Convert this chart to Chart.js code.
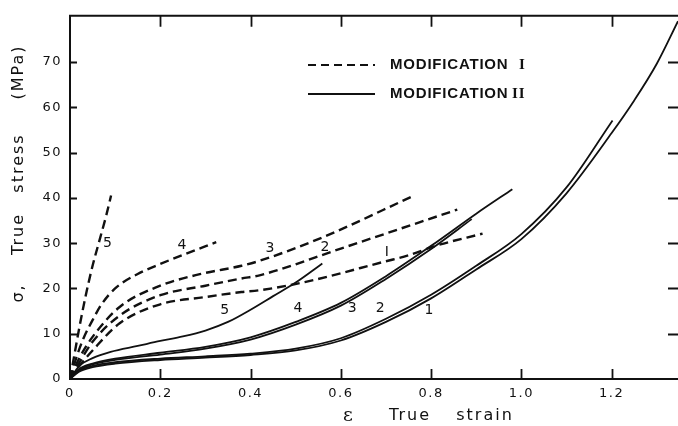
<!DOCTYPE html>
<html lang="en">
<head>
<meta charset="UTF-8">
<title>True stress - true strain</title>
<style>
    body { margin: 0; background: #fff; }
    #wrap { width: 678px; height: 426px; }
</style>
<script src="https://cdn.jsdelivr.net/npm/chart.js"></script>
</head>
<body>
<div id="wrap"><canvas id="chart" width="678" height="426"></canvas></div>
<script>
// Modification I (dashed), curves 1-5
var m1c1Strain = [0, 0.02, 0.05, 0.11, 0.2, 0.3, 0.38, 0.42, 0.52, 0.7, 0.75, 0.81, 0.914];
var m1c1Stress = [0, 2.8, 6.3, 12.3, 16.5, 18.1, 19.2, 19.6, 21.4, 26, 27.3, 29.4, 32.1];
var m1c2Strain = [0, 0.02, 0.05, 0.11, 0.2, 0.3, 0.38, 0.42, 0.6, 0.858];
var m1c2Stress = [0, 3.5, 8.2, 14, 18.5, 20.6, 22.2, 22.9, 28.8, 37.4];
var m1c3Strain = [0, 0.02, 0.05, 0.11, 0.2, 0.29, 0.38, 0.42, 0.56, 0.76];
var m1c3Stress = [0, 4.5, 9.3, 15.9, 20.6, 23.2, 25, 26.1, 31.3, 40.4];
var m1c4Strain = [0, 0.015, 0.03, 0.05, 0.07, 0.1, 0.15, 0.2, 0.25, 0.324];
var m1c4Stress = [0, 5, 9, 13, 16.5, 20, 23.2, 25.4, 27.4, 30.2];
var m1c5Strain = [0, 0.01, 0.02, 0.035, 0.05, 0.065, 0.08, 0.091];
var m1c5Stress = [0, 5.5, 11, 18.5, 25, 30.5, 36, 40.5];

// Modification II (solid), curves 1-5
var m2c1Strain = [0, 0.02, 0.05, 0.1, 0.2, 0.3, 0.4, 0.5, 0.6, 0.7, 0.8, 0.9, 1.0, 1.1, 1.2, 1.25, 1.3, 1.347];
var m2c1Stress = [0, 1.6, 2.6, 3.4, 4.2, 4.7, 5.3, 6.3, 8.5, 12.6, 17.8, 24.2, 30.9, 41, 54.3, 61.5, 69.6, 79];
var m2c2Strain = [0, 0.02, 0.05, 0.1, 0.2, 0.3, 0.4, 0.5, 0.6, 0.7, 0.8, 0.9, 1.0, 1.1, 1.202];
var m2c2Stress = [0, 1.8, 2.9, 3.7, 4.5, 5.0, 5.6, 6.7, 9.0, 13.3, 18.6, 25.0, 32.0, 42.3, 57.1];
var m2c3Strain = [0, 0.02, 0.05, 0.1, 0.2, 0.3, 0.4, 0.5, 0.6, 0.7, 0.8, 0.89];
var m2c3Stress = [0, 2, 3.2, 4.2, 5.4, 6.7, 8.7, 12.0, 16.2, 22.1, 28.7, 35.3];
var m2c4Strain = [0, 0.02, 0.05, 0.1, 0.2, 0.3, 0.4, 0.5, 0.6, 0.7, 0.8, 0.9, 0.98];
var m2c4Stress = [0, 2.2, 3.4, 4.5, 5.8, 7.1, 9.2, 12.6, 16.8, 22.7, 29.4, 36.5, 41.9];
var m2c5Strain = [0, 0.02, 0.05, 0.09, 0.15, 0.2, 0.25, 0.3, 0.35, 0.4, 0.45, 0.5, 0.559];
var m2c5Stress = [0, 2.8, 4.6, 6, 7.3, 8.4, 9.4, 10.7, 12.6, 15.3, 18.3, 21.3, 25.5];

// axes
var xTicks = [0, 0.2, 0.4, 0.6, 0.8, 1.0, 1.2];
var xTickLabels = ['0', '0.2', '0.4', '0.6', '0.8', '1.0', '1.2'];
var yTicks = [0, 10, 20, 30, 40, 50, 60, 70];
var yTickLabels = ['0', '10', '20', '30', '40', '50', '60', '70'];

// curve numbers written next to the lines
var m1LabelText = ['5', '4', '3', '2', 'I'];
var m1LabelStrain = [0.083, 0.248, 0.443, 0.565, 0.702];
var m1LabelStress = [29.9, 29.5, 28.8, 29.0, 27.9];
var m2LabelText = ['5', '4', '3', '2', '1'];
var m2LabelStrain = [0.343, 0.505, 0.625, 0.687, 0.795];
var m2LabelStress = [15.2, 15.6, 15.6, 15.6, 15.2];

function pts(xs, ys) {
    return xs.map(function (x, i) { return { x: x, y: ys[i] }; });
}

function dashed(xs, ys) {
    return { data: pts(xs, ys), borderColor: '#111', borderWidth: 2.4, borderDash: [9, 5] };
}
function solid(xs, ys) {
    return { data: pts(xs, ys), borderColor: '#111', borderWidth: 1.8 };
}

var decor = {
    id: 'decor',
    beforeDraw: function (chart) {
        chart.ctx.letterSpacing = '1.5px';
    },
    afterDraw: function (chart) {
        var ctx = chart.ctx, a = chart.chartArea;
        var sx = chart.scales.x, sy = chart.scales.y;
        ctx.save();
        ctx.letterSpacing = '0px';
        ctx.strokeStyle = '#111';
        ctx.fillStyle = '#111';
        ctx.lineWidth = 2;

        // frame: left, bottom, top (right edge is cut off)
        ctx.beginPath();
        ctx.moveTo(a.right, a.top);
        ctx.lineTo(a.left, a.top);
        ctx.lineTo(a.left, a.bottom);
        ctx.lineTo(a.right, a.bottom);
        ctx.stroke();

        // inward tick marks on all sides
        ctx.lineWidth = 1.8;
        ctx.beginPath();
        xTicks.forEach(function (v) {
            if (v === 0) return;
            var px = Math.round(sx.getPixelForValue(v)) + 0.5;
            ctx.moveTo(px, a.bottom); ctx.lineTo(px, a.bottom - 10);
            ctx.moveTo(px, a.top); ctx.lineTo(px, a.top + 11);
        });
        yTicks.forEach(function (v) {
            if (v === 0) return;
            var py = Math.round(sy.getPixelForValue(v)) + 0.5;
            ctx.moveTo(a.left, py); ctx.lineTo(a.left + 7, py);
            ctx.moveTo(a.right, py); ctx.lineTo(a.right - 10, py);
        });
        ctx.stroke();

        // legend
        ctx.lineWidth = 2.2;
        ctx.setLineDash([8, 5]);
        ctx.beginPath();
        ctx.moveTo(308, 65); ctx.lineTo(375, 65);
        ctx.stroke();
        ctx.setLineDash([]);
        ctx.lineWidth = 2;
        ctx.beginPath();
        ctx.moveTo(308, 94); ctx.lineTo(375, 94);
        ctx.stroke();
        ctx.textBaseline = 'middle';
        ctx.textAlign = 'left';
        ctx.letterSpacing = '0.8px';
        ctx.font = 'bold 15px "Liberation Sans"';
        ctx.fillText('MODIFICATION', 390, 65);
        ctx.fillText('MODIFICATION', 390, 94);
        ctx.font = 'bold 15px "Liberation Serif"';
        ctx.fillText('I', 519, 65);
        ctx.fillText('II', 512, 94);

        // curve numbers
        ctx.textAlign = 'center';
        ctx.letterSpacing = '0px';
        ctx.font = '14px "DejaVu Sans"';
        m1LabelText.forEach(function (t, i) {
            ctx.fillText(t, sx.getPixelForValue(m1LabelStrain[i]), sy.getPixelForValue(m1LabelStress[i]));
        });
        m2LabelText.forEach(function (t, i) {
            ctx.fillText(t, sx.getPixelForValue(m2LabelStrain[i]), sy.getPixelForValue(m2LabelStress[i]));
        });

        // x title
        ctx.font = '19px "DejaVu Serif"';
        ctx.fillText('\u03b5', 348, 416);
        ctx.font = '16px "DejaVu Sans"';
        ctx.letterSpacing = '2px';
        ctx.fillText('True', 410, 416);
        ctx.fillText('strain', 485, 416);

        // y title, rotated
        ctx.translate(19, 0);
        ctx.rotate(-Math.PI / 2);
        ctx.fillText('\u03c3,', -293, 0);
        ctx.fillText('True', -234, 0);
        ctx.fillText('stress', -163, 0);
        ctx.fillText('(MPa)', -72, 0);
        ctx.restore();
    }
};

var tickFont = { family: 'DejaVu Sans', size: 13 };

new Chart(document.getElementById('chart'), {
    type: 'line',
    data: {
        datasets: [
            solid(m2c1Strain, m2c1Stress),
            solid(m2c2Strain, m2c2Stress),
            solid(m2c3Strain, m2c3Stress),
            solid(m2c4Strain, m2c4Stress),
            solid(m2c5Strain, m2c5Stress),
            dashed(m1c1Strain, m1c1Stress),
            dashed(m1c2Strain, m1c2Stress),
            dashed(m1c3Strain, m1c3Stress),
            dashed(m1c4Strain, m1c4Stress),
            dashed(m1c5Strain, m1c5Stress)
        ]
    },
    options: {
        responsive: false,
        animation: false,
        layout: { padding: { top: 14, right: 0, left: 0, bottom: 0 } },
        plugins: { legend: { display: false }, tooltip: { enabled: false } },
        elements: {
            point: { radius: 0 },
            line: { cubicInterpolationMode: 'monotone', fill: false }
        },
        scales: {
            x: {
                type: 'linear',
                min: 0,
                max: 1.347,
                grid: { display: false, drawTicks: false },
                border: { display: false },
                afterFit: function (s) { s.height = 47; },
                afterBuildTicks: function (s) { s.ticks = xTicks.map(function (v) { return { value: v }; }); },
                ticks: {
                    autoSkip: false,
                    maxRotation: 0,
                    color: '#111',
                    font: tickFont,
                    padding: 7,
                    callback: function (v, i) { return xTickLabels[i]; }
                }
            },
            y: {
                min: 0,
                max: 80.2,
                grid: { display: false, drawTicks: false },
                border: { display: false },
                afterFit: function (s) { s.width = 70; },
                afterBuildTicks: function (s) { s.ticks = yTicks.map(function (v) { return { value: v }; }); },
                ticks: {
                    autoSkip: false,
                    color: '#111',
                    font: tickFont,
                    padding: 8,
                    callback: function (v, i) { return yTickLabels[i]; }
                }
            }
        }
    },
    plugins: [decor]
});
</script>
</body>
</html>
